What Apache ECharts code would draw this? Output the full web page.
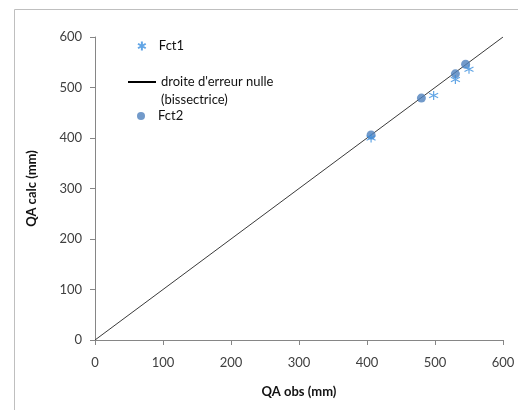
<!DOCTYPE html>
<html>
<head>
<meta charset="utf-8">
<script src="https://cdn.jsdelivr.net/npm/echarts@6/dist/echarts.min.js"></script>
<style>
  html, body { margin: 0; padding: 0; background: #ffffff; }
  #chart { width: 518px; height: 410px; }
</style>
</head>
<body>
<div id="chart"></div>
<script>
// Observed vs computed QA values (mm)
const fct1Obs  = [406, 498, 530, 550];
const fct1Calc = [400, 484, 516, 536];
const fct2Obs  = [406, 480, 530, 545];
const fct2Calc = [406, 479, 527, 546];
// Zero-error line (bisector)
const bisectorX = [0, 600];
const bisectorY = [0, 600];
const axisTicks = [0, 100, 200, 300, 400, 500, 600];

const FONT = 'Lato, "Open Sans", sans-serif';
const pairs = (xs, ys) => xs.map((x, i) => [x, ys[i]]);

// Asterisk marker: vertical bar crossed by an X
const starPath = 'path://M5,0 L5,10 M0.7,2.5 L9.3,7.5 M0.7,7.5 L9.3,2.5';

const chart = echarts.init(document.getElementById('chart'), null, { renderer: 'canvas' });

const axisCommon = {
  type: 'value',
  min: axisTicks[0],
  max: axisTicks[axisTicks.length - 1],
  interval: axisTicks[1] - axisTicks[0],
  axisLine: { show: true, lineStyle: { color: '#868686', width: 1 } },
  axisTick: { show: true, inside: false, length: 5, lineStyle: { color: '#868686' } },
  splitLine: { show: false },
  axisLabel: { color: '#404040', fontFamily: FONT, fontSize: 13 },
  nameLocation: 'middle',
  nameTextStyle: { color: '#111', fontFamily: FONT, fontSize: 13, fontWeight: 'bold' }
};

const legendText = { color: '#111', fontFamily: FONT, fontSize: 13, lineHeight: 18, padding: [0, 0, 0, 5] };

chart.setOption({
  animation: false,
  backgroundColor: '#ffffff',
  grid: { left: 95, right: 15, top: 37, bottom: 70, containLabel: false },
  xAxis: Object.assign({}, axisCommon, {
    name: 'QA obs (mm)', nameGap: 45,
    axisLabel: Object.assign({}, axisCommon.axisLabel, { margin: 16 })
  }),
  yAxis: Object.assign({}, axisCommon, {
    name: 'QA calc (mm)', nameGap: 57,
    axisLabel: Object.assign({}, axisCommon.axisLabel, { margin: 13 })
  }),
  legend: [
    {
      left: 137, top: 37, padding: 0, orient: 'vertical', itemWidth: 14, itemHeight: 9,
      textStyle: legendText, data: [{ name: 'Fct1' }]
    },
    {
      left: 128, top: 55, padding: 0, orient: 'vertical', itemWidth: 28, itemHeight: 2, itemGap: 0,
      textStyle: Object.assign({}, legendText, { padding: 0 }),
      formatter: n => '\n' + n + '\n(bissectrice)',
      data: [{ name: "droite d'erreur nulle", icon: 'rect', itemStyle: { color: '#000' } }]
    },
    {
      left: 137, top: 107, padding: 0, orient: 'vertical', itemWidth: 14, itemHeight: 8,
      textStyle: legendText, data: [{ name: 'Fct2' }]
    }
  ],
  graphic: [
    { type: 'line', shape: { x1: 14.5, y1: 9.5, x2: 518, y2: 9.5 }, style: { stroke: '#bfbfbf', lineWidth: 1 }, silent: true },
    { type: 'line', shape: { x1: 14.5, y1: 9.5, x2: 14.5, y2: 410 }, style: { stroke: '#bfbfbf', lineWidth: 1 }, silent: true }
  ],
  series: [
    {
      name: "droite d'erreur nulle",
      type: 'line',
      data: pairs(bisectorX, bisectorY),
      symbol: 'none',
      lineStyle: { color: '#3a3a3a', width: 1 },
      z: 1
    },
    {
      name: 'Fct1',
      type: 'scatter',
      data: pairs(fct1Obs, fct1Calc),
      symbol: starPath,
      symbolSize: 9,
      itemStyle: { color: 'rgba(0,0,0,0)', borderColor: '#3b8ede', borderWidth: 1.2 },
      z: 3
    },
    {
      name: 'Fct2',
      type: 'scatter',
      data: pairs(fct2Obs, fct2Calc),
      symbol: 'circle',
      symbolSize: 9,
      itemStyle: { color: '#4f81bd' },
      z: 2
    }
  ]
});
</script>
</body>
</html>
